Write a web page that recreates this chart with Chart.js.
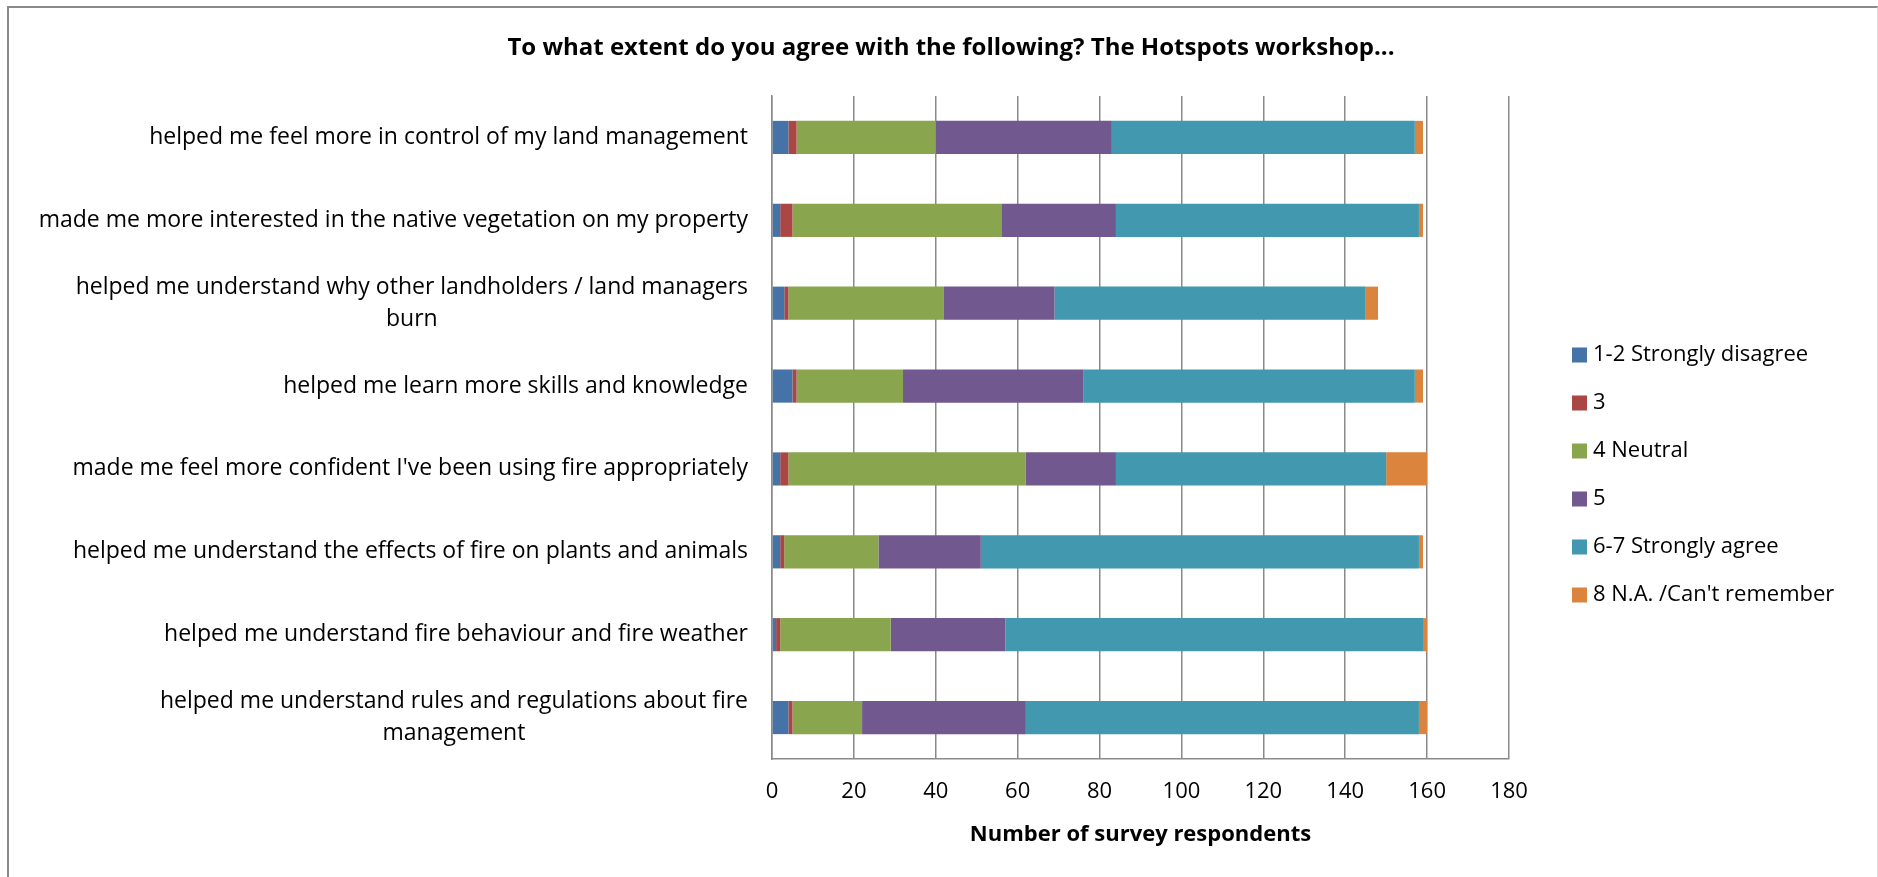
<!DOCTYPE html>
<html>
<head>
<meta charset="utf-8">
<title>Hotspots workshop survey</title>
<script src="https://cdn.jsdelivr.net/npm/chart.js@4.4.0/dist/chart.umd.min.js"></script>
<style>
    html, body { margin: 0; padding: 0; background: #fff; }
    #wrap { position: relative; width: 1878px; height: 877px; }
    #frame {
        position: absolute; left: 7px; top: 6px; right: 0; bottom: -4px;
        border-left: 2px solid #8a8a8a;
        border-top: 2px solid #8a8a8a;
        border-right: 1px solid #d8d8d8;
        pointer-events: none;
    }
</style>
</head>
<body>
<div id="wrap">
    <canvas id="myChart" width="1878" height="877"></canvas>
    <div id="frame"></div>
</div>
<script>
const statements = [
    'helped me feel more in control of my land management',
    'made me more interested in the native vegetation on my property',
    ['helped me understand why other landholders / land managers', 'burn'],
    'helped me learn more skills and knowledge',
    "made me feel more confident I've been using fire appropriately",
    'helped me understand the effects of fire on plants and animals',
    'helped me understand fire behaviour and fire weather',
    ['helped me understand rules and regulations about fire', 'management']
];

const stronglyDisagree = [4, 2, 3, 5, 2, 2, 1, 4];
const three            = [2, 3, 1, 1, 2, 1, 1, 1];
const neutral          = [34, 51, 38, 26, 58, 23, 27, 17];
const five             = [43, 28, 27, 44, 22, 25, 28, 40];
const stronglyAgree    = [74, 74, 76, 81, 66, 107, 102, 96];
const notApplicable    = [2, 1, 3, 2, 10, 1, 1, 2];

const seriesNames = ['1-2 Strongly disagree', '3', '4 Neutral', '5', '6-7 Strongly agree', "8 N.A. /Can't remember"];
const seriesColors = ['#4572a7', '#aa4643', '#89a54e', '#71588f', '#4198af', '#db843d'];

const xTicks = [0, 20, 40, 60, 80, 100, 120, 140, 160, 180];

const FONT = '"Open Sans", Lato, sans-serif';
const GRID = '#8a8a8a';

// category labels, right aligned as a block, wrapped lines centred
const statementLabels = {
    id: 'statementLabels',
    afterDraw(chart)
    {
        const ctx = chart.ctx;
        const y = chart.scales.y;
        const right = chart.chartArea.left - 24;
        const lineHeight = 32;

        ctx.save();
        ctx.font = '23px ' + FONT;
        ctx.fillStyle = '#000';
        ctx.textAlign = 'center';
        ctx.textBaseline = 'middle';

        chart.data.labels.forEach((label, i) => {
            const lines = Array.isArray(label) ? label : [label];
            const width = Math.max(...lines.map(l => ctx.measureText(l).width));
            const cx = right - width / 2;
            const cy = y.getPixelForTick(i);
            lines.forEach((line, j) => {
                ctx.fillText(line, cx, cy + (j - (lines.length - 1) / 2) * lineHeight);
            });
        });
        ctx.restore();
    }
};

// vertical legend to the right of the plot
const sideLegend = {
    id: 'sideLegend',
    afterDraw(chart)
    {
        const ctx = chart.ctx;
        const boxX = chart.chartArea.right + 63;
        const top = chart.chartArea.top + 259;
        const step = 48;
        const box = 15;

        ctx.save();
        ctx.font = '22px ' + FONT;
        ctx.textAlign = 'left';
        ctx.textBaseline = 'middle';

        chart.data.datasets.forEach((ds, i) => {
            const cy = top + i * step;
            ctx.fillStyle = ds.backgroundColor;
            ctx.fillRect(boxX, cy - box / 2, box, box);
            ctx.fillStyle = '#000';
            ctx.fillText(ds.label, boxX + box + 6, cy);
        });
        ctx.restore();
    }
};

function drawPage()
{
    const series = [stronglyDisagree, three, neutral, five, stronglyAgree, notApplicable];

    const chartData = {
        labels: statements,
        datasets: series.map((values, i) => ({
            label: seriesNames[i],
            data: values,
            backgroundColor: seriesColors[i],
            borderWidth: 0,
            categoryPercentage: 1,
            barPercentage: 0.4
        }))
    };

    const config = {
        type: 'bar',
        data: chartData,
        options: {
            indexAxis: 'y',
            responsive: false,
            animation: false,
            layout: {
                padding: { left: 24, right: 0, top: 0, bottom: 0 }
            },
            plugins: {
                legend: { display: false },
                tooltip: { enabled: false },
                title: {
                    display: true,
                    text: 'To what extent do you agree with the following? The Hotspots workshop...',
                    color: '#000',
                    font: { family: FONT, size: 24, weight: 'bold' },
                    padding: { top: 33.6, bottom: 33.6 }
                }
            },
            scales: {
                x: {
                    stacked: true,
                    min: xTicks[0],
                    max: xTicks[xTicks.length - 1],
                    afterBuildTicks: scale => {
                        scale.ticks = xTicks.map(v => ({ value: v }));
                    },
                    afterFit: scale => { scale.height = 118; },
                    grid: { color: GRID, lineWidth: 1.5, drawTicks: false },
                    border: { color: GRID, width: 1.5 },
                    ticks: {
                        color: '#000',
                        padding: 20,
                        font: { family: FONT, size: 22 }
                    },
                    title: {
                        display: true,
                        text: 'Number of survey respondents',
                        color: '#000',
                        font: { family: FONT, size: 22, weight: 'bold' },
                        padding: { top: 0, bottom: 29 }
                    }
                },
                y: {
                    stacked: true,
                    afterFit: scale => { scale.width = 748; },
                    grid: { display: false },
                    border: { color: GRID, width: 1.5 },
                    ticks: { display: false }
                },
                // keeps room on the right for the legend
                legendSpace: {
                    type: 'linear',
                    position: 'right',
                    afterFit: scale => { scale.width = 369; },
                    grid: { display: false },
                    border: { display: false },
                    ticks: { display: false }
                }
            }
        },
        plugins: [statementLabels, sideLegend]
    };

    const ctx = document.getElementById('myChart').getContext('2d');

    if (ctx) {
        new Chart(ctx, config);
    }
}

drawPage();
</script>
</body>
</html>
